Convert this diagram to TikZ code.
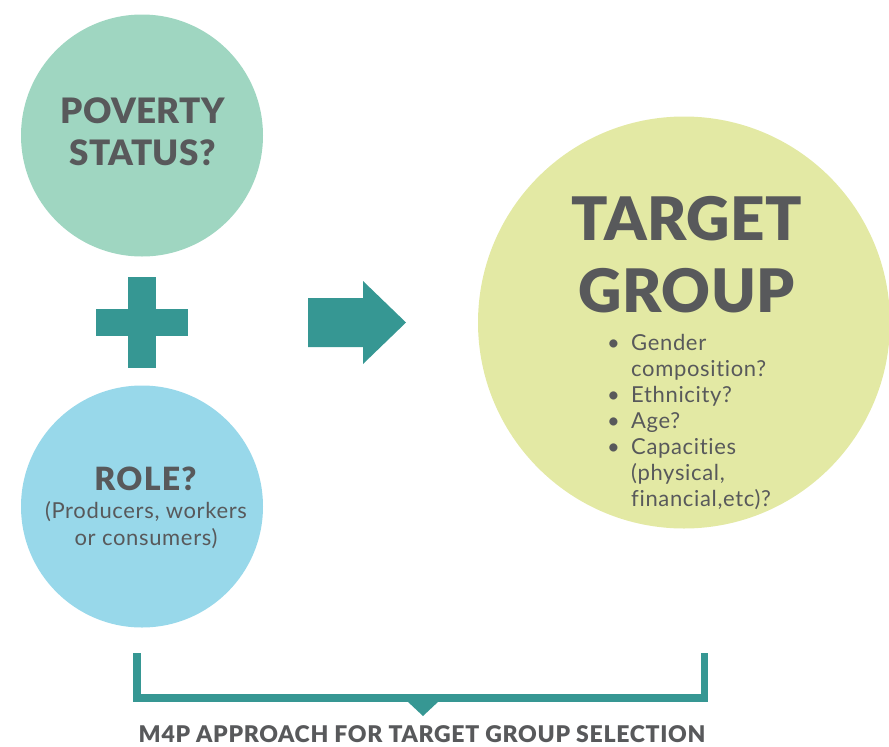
\documentclass[tikz,border=0pt]{standalone}
\usepackage{fontspec}
\setmainfont{Lato}[Ligatures=NoCommon, BoldFont={Lato Black}]
\definecolor{povc}{HTML}{9FD6C1}
\definecolor{rolec}{HTML}{98D8EA}
\definecolor{tgc}{HTML}{E3E9A4}
\definecolor{tealc}{HTML}{369793}
\definecolor{txtc}{HTML}{58595B}
\newcommand\bul{\makebox[24pt][l]{\textbullet}}
\newcommand\trk[1]{\addfontfeatures{LetterSpace=#1}}
\begin{document}
\begin{tikzpicture}[x=1pt,y=-1pt,
  bubble/.style={circle, draw=none, inner sep=0pt},
  txt/.style={inner sep=0pt, text=txtc},
  teal shape/.style={fill=tealc, draw=none}]
\useasboundingbox (0,0) rectangle (889,747);
% circles
\node[bubble, fill=povc, minimum size=242pt] (pov) at (142,135.5) {};
\node[bubble, fill=rolec, minimum size=242pt] (role) at (142,506.5) {};
\node[bubble, fill=tgc, minimum size=412pt] (tg) at (684,322.5) {};
% plus sign
\fill[teal shape] (128,277) rectangle (156,368);
\fill[teal shape] (96,309) rectangle (188,336);
% block arrow
\fill[teal shape] (308,298) -- (363,298) -- (363,281) -- (406,322.5) -- (363,364) -- (363,347) -- (308,347) -- cycle;
% bracket
\draw[tealc, line width=7.5pt, miter limit=10] (137,653) -- (137,698) -- (704.7,698) -- (704.7,653);
\fill[teal shape] (407,701) -- (439,701) -- (423,716) -- cycle;
% texts
\node[txt, anchor=base, font=\bfseries\fontsize{35}{42}\selectfont\trk{1}] (povt) at (142.5,123)
  {\begin{tabular}[t]{@{}c@{}}POVERTY\\STATUS?\end{tabular}};
\node[txt, anchor=base, font=\bfseries\fontsize{32}{36}\selectfont\trk{4}] (rolet) at (145.5,490) {ROLE?};
\node[txt, anchor=base, font=\fontsize{22}{27}\selectfont\trk{3}] (rolesub) at (146,518)
  {\begin{tabular}[t]{@{}c@{}}(Producers, workers\\or consumers)\end{tabular}};
\node[txt, anchor=base, font=\bfseries\fontsize{60}{72}\selectfont\trk{1}] (tgt) at (686.5,240)
  {\begin{tabular}[t]{@{}c@{}}TARGET\\GROUP\end{tabular}};
\node[txt, anchor=base west, font=\fontsize{22}{26}\selectfont\trk{3}] (list) at (607,350)
  {\begin{tabular}[t]{@{}l@{}l@{}}
  \bul & Gender\\
       & composition?\\
  \bul & Ethnicity?\\
  \bul & Age?\\
  \bul & Capacities\\
       & (physical,\\
       & financial,etc)?
  \end{tabular}};
\node[txt, anchor=base, font=\bfseries\fontsize{23}{26}\selectfont\trk{3}] (caption) at (422,742)
  {M4P APPROACH FOR TARGET GROUP SELECTION};
\end{tikzpicture}
\end{document}
